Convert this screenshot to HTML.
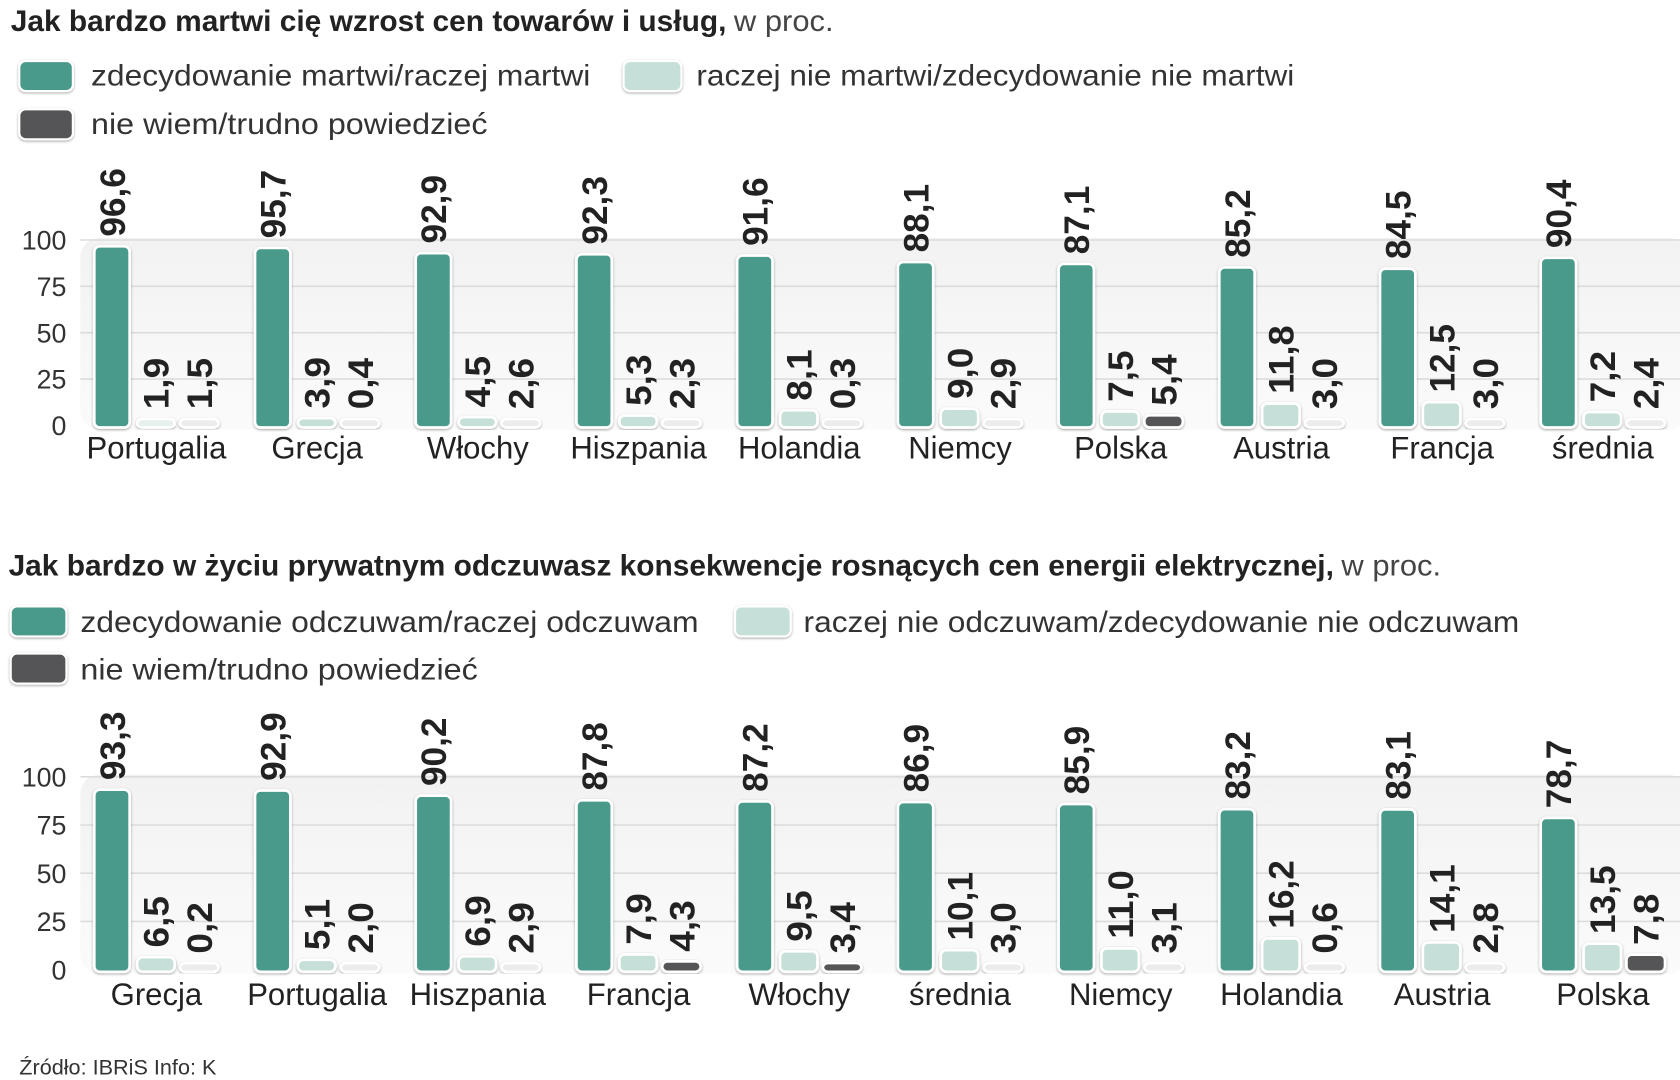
<!DOCTYPE html>
<html><head><meta charset="utf-8"><style>
html,body{margin:0;padding:0;background:#fff;}
svg{display:block;font-family:"Liberation Sans Narrow","Liberation Sans",sans-serif;}
</style></head><body>
<svg id="root" width="1680" height="1080" viewBox="0 0 1568 1008" xmlns="http://www.w3.org/2000/svg">
<defs>
<linearGradient id="bg" x1="0" y1="0" x2="0" y2="1"><stop offset="0" stop-color="#f2f2f2"/><stop offset="1" stop-color="#fbfbfb"/></linearGradient>
<filter id="sh" x="-20%" y="-20%" width="140%" height="140%"><feDropShadow dx="0" dy="1" stdDeviation="1.2" flood-color="#000" flood-opacity="0.35"/></filter>
</defs>
<text x="10" y="29" font-size="28" fill="#222"><tspan font-weight="bold" textLength="668" lengthAdjust="spacingAndGlyphs">Jak bardzo martwi cię wzrost cen towarów i usług,</tspan></text>
<text x="685" y="29" font-size="28" fill="#444" textLength="93" lengthAdjust="spacingAndGlyphs">w proc.</text>
<g>
<rect x="18" y="57" width="50" height="28" rx="6" fill="#4a9a8a" stroke="#fff" stroke-width="2" filter="url(#sh)"/>
<text x="85" y="80" font-size="28" fill="#333" textLength="466" lengthAdjust="spacingAndGlyphs">zdecydowanie martwi/raczej martwi</text>
<rect x="582" y="57" width="54" height="28" rx="6" fill="#c6e0d9" stroke="#fff" stroke-width="2" filter="url(#sh)"/>
<text x="650" y="80" font-size="28" fill="#333" textLength="558" lengthAdjust="spacingAndGlyphs">raczej nie martwi/zdecydowanie nie martwi</text>
<rect x="18" y="102" width="50" height="28" rx="6" fill="#555558" stroke="#fff" stroke-width="2" filter="url(#sh)"/>
<text x="85" y="125" font-size="28" fill="#333" textLength="370" lengthAdjust="spacingAndGlyphs">nie wiem/trudno powiedzieć</text>
</g>
<text x="8" y="537" font-size="28" fill="#222"><tspan font-weight="bold" textLength="1237" lengthAdjust="spacingAndGlyphs">Jak bardzo w życiu prywatnym odczuwasz konsekwencje rosnących cen energii elektrycznej,</tspan></text>
<text x="1252" y="537" font-size="28" fill="#444" textLength="93" lengthAdjust="spacingAndGlyphs">w proc.</text>
<g>
<rect x="10" y="566" width="52" height="28" rx="6" fill="#4a9a8a" stroke="#fff" stroke-width="2" filter="url(#sh)"/>
<text x="75" y="590" font-size="28" fill="#333" textLength="577" lengthAdjust="spacingAndGlyphs">zdecydowanie odczuwam/raczej odczuwam</text>
<rect x="686" y="566" width="52" height="28" rx="6" fill="#c6e0d9" stroke="#fff" stroke-width="2" filter="url(#sh)"/>
<text x="750" y="590" font-size="28" fill="#333" textLength="668" lengthAdjust="spacingAndGlyphs">raczej nie odczuwam/zdecydowanie nie odczuwam</text>
<rect x="10" y="610" width="52" height="28" rx="6" fill="#555558" stroke="#fff" stroke-width="2" filter="url(#sh)"/>
<text x="75" y="634" font-size="28" fill="#333" textLength="371" lengthAdjust="spacingAndGlyphs">nie wiem/trudno powiedzieć</text>
</g>
<text x="18" y="1003" font-size="20" fill="#333" textLength="184" lengthAdjust="spacingAndGlyphs">Źródło: IBRiS Info: K</text>
<g id="c1"></g>
<g id="c2"></g>
</svg>
<script>
const cats1 = ["Portugalia","Grecja","Włochy","Hiszpania","Holandia","Niemcy","Polska","Austria","Francja","średnia"];
const worried1 = [96.6,95.7,92.9,92.3,91.6,88.1,87.1,85.2,84.5,90.4];
const notWorried1 = [1.9,3.9,4.5,5.3,8.1,9.0,7.5,11.8,12.5,7.2];
const dontKnow1 = [1.5,0.4,2.6,2.3,0.3,2.9,5.4,3.0,3.0,2.4];
const cats2 = ["Grecja","Portugalia","Hiszpania","Francja","Włochy","średnia","Niemcy","Holandia","Austria","Polska"];
const feel2 = [93.3,92.9,90.2,87.8,87.2,86.9,85.9,83.2,83.1,78.7];
const notFeel2 = [6.5,5.1,6.9,7.9,9.5,10.1,11.0,16.2,14.1,13.5];
const dontKnow2 = [0.2,2.0,2.9,4.3,3.4,3.0,3.1,0.6,2.8,7.8];
const yTicks = [0,25,50,75,100];

const NS="http://www.w3.org/2000/svg";
function mk(tag, attrs, parent){const e=document.createElementNS(NS,tag);for(const k in attrs)e.setAttribute(k,attrs[k]);parent.appendChild(e);return e;}
function fmt(v){return v.toFixed(1).replace('.',',');}

function draw(gid, cats, series, zeroY, h100, labelY){
  const g=document.getElementById(gid);
  const y=v=>zeroY - v/100*h100;
  const x0=88, step=150, bw=[33,35,36], off=[0,40,80];
  const colors=["#4a9a8a","#c6e0d9","#555558"];
  const bgr=mk('rect',{x:75,y:y(100)-2,width:1500,height:h100+6,rx:18,fill:'url(#bg)'},g);
  
  
  yTicks.forEach(t=>{
    if(t>0){const l=mk('line',{x1:75,x2:1568,y1:y(t),y2:y(t),stroke:'#dcdcdc','stroke-width':1.5},g);
    
    }
    const tx=mk('text',{x:62,y:y(t)+9,'font-size':25,fill:'#333','text-anchor':'end'},g);
    tx.textContent=t;
    
    
  });
  cats.forEach((c,i)=>{
    const gx=x0+step*i;
    series.forEach((s,j)=>{
      const v=s[i];
      const top=Math.min(y(v), zeroY-6);
      let fill=colors[j];
      if(j==2&&v<3.2) fill='#ececec';
      else if(j==1&&v<2.5) fill='#e6f1ee';
      const r=mk('rect',{x:gx+off[j],y:top,width:bw[j],height:zeroY-top+2,rx:5,fill:fill,stroke:'#fff','stroke-width':2.5,filter:'url(#sh)'},g);
      
      
      const cx=gx+off[j]+bw[j]/2+12, ly=top-9;
      const str=fmt(v);
      const t=mk('text',{x:cx,y:ly,'font-size':33,'font-weight':'bold',fill:'#222',transform:`rotate(-90 ${cx} ${ly})`,textLength:str.length*16,lengthAdjust:'spacingAndGlyphs'},g);
      t.textContent=str;
      
      
    });
    const ct=mk('text',{x:gx+58,y:labelY,'font-size':29,fill:'#222','text-anchor':'middle'},g);
    ct.textContent=c;
    
    
  });
}
draw('c1',cats1,[worried1,notWorried1,dontKnow1],397,173,428);
draw('c2',cats2,[feel2,notFeel2,dontKnow2],905,180,938);
</script>
</body></html>
